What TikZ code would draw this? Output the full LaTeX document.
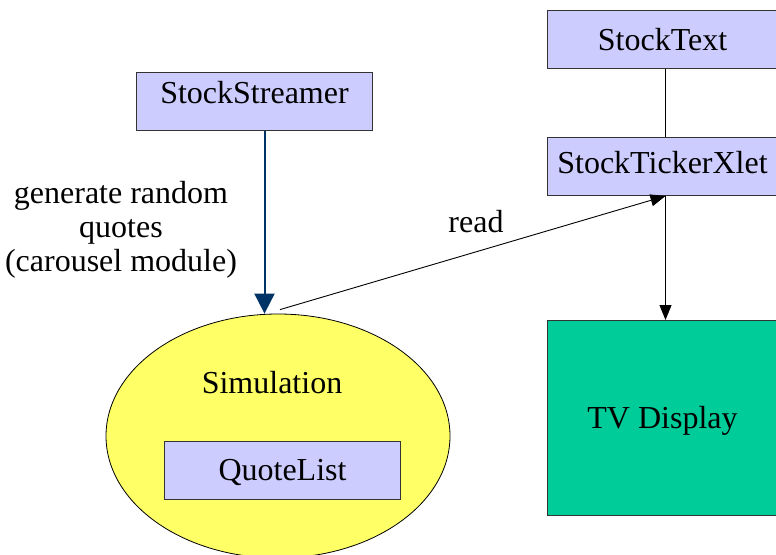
\documentclass[tikz,border=0pt]{standalone}
\usepackage{fontspec}
\setmainfont{Liberation Serif}
\usetikzlibrary{arrows.meta,shapes.geometric}
\definecolor{lav}{HTML}{CCCCFF}
\definecolor{ylw}{HTML}{FFFF66}
\definecolor{grn}{HTML}{00CC99}
\definecolor{edgegray}{HTML}{333333}
\definecolor{darkblue}{HTML}{003366}
\begin{document}
\begin{tikzpicture}[x=1pt,y=-1pt,
  font=\rmfamily\fontsize{32}{34}\selectfont,
  box/.style={draw=edgegray, line width=1pt, fill=lav, inner sep=0pt, anchor=north west, minimum height=58pt},
  plain/.style={draw=black, line width=0.9pt},
  thinarrow/.style={plain, -{Triangle[width=12pt,length=15pt]}},
  bluearrow/.style={draw=darkblue, line width=2pt, -{Triangle[width=20pt,length=20pt]}},
  lbl/.style={inner sep=0pt}]
\useasboundingbox (0,0) rectangle (776,554);

% simulation ellipse
\node[ellipse, draw=black, line width=0.8pt, fill=ylw, minimum width=344pt, minimum height=244pt, inner sep=0pt] (sim) at (278,436) {};
\node[lbl, anchor=base] (simlbl) at (272,393) {Simulation};
\node[box, minimum width=236pt, text height=39pt, text depth=19pt] (ql) at (164,441) {QuoteList};

% boxes
\node[box, minimum width=236pt, text height=31pt, text depth=27pt] (streamer) at (136,72) {StockStreamer};
\node[box, minimum width=230pt, text height=40pt, text depth=18pt] (stext) at (547,10) {StockText};
\node[box, minimum width=230pt, text height=36pt, text depth=22pt] (ticker) at (547,137) {StockTickerXlet};
\node[box, fill=grn, minimum width=230pt, minimum height=195pt, text height=108pt, text depth=87pt] (tv) at (547,320) {TV Display};

% labels
\node[lbl, align=center, anchor=center] (genlbl) at (121,230) {generate random\\quotes\\(carousel module)};
\node[lbl, anchor=base] (readlbl) at (476,232) {read};

% connectors
\draw[bluearrow] ([xshift=10pt]streamer.south) -- ([xshift=10pt]streamer.south |- sim.north);
\draw[plain] ([xshift=3pt]stext.south) -- ([xshift=3pt]ticker.north);
\draw[thinarrow] ([xshift=3pt]ticker.south) -- ([xshift=3pt]tv.north);
\draw[thinarrow] ([shift={(2pt,4pt)}]sim.north) -- ([xshift=3pt]ticker.south);
\end{tikzpicture}
\end{document}
